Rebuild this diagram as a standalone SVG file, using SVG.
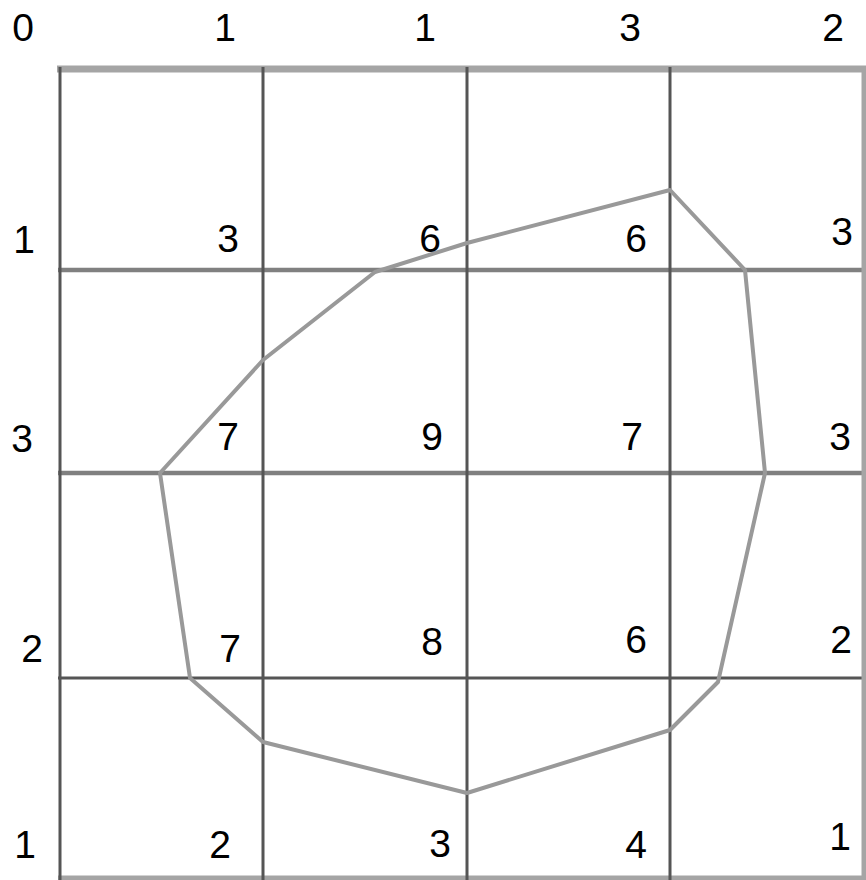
<svg xmlns="http://www.w3.org/2000/svg" width="866" height="880" viewBox="0 0 866 880">
<style>
.g{stroke:#555;stroke-width:3;fill:none}
.gl{stroke:#a5a5a5;stroke-width:7;fill:none}
.gm{stroke:#808080;stroke-width:4.5;fill:none}
.poly{stroke:#999;stroke-width:4;fill:none;stroke-linejoin:round}
text{font-family:"Liberation Sans",Arial,sans-serif;font-size:39px;fill:#000;text-anchor:middle}
</style>
<rect width="866" height="880" fill="#fff"/>
<g id="grid">
<line class="gl" x1="57" y1="69" x2="866" y2="69"/>
<line class="gm" x1="58" y1="270" x2="866" y2="270"/>
<line class="gm" x1="58" y1="473" x2="866" y2="473"/>
<line class="g" x1="58" y1="678" x2="866" y2="678"/>
<line class="gl" x1="58" y1="879" x2="866" y2="879"/>
<line class="g" x1="60" y1="67" x2="60" y2="880"/>
<line class="g" x1="263" y1="67" x2="263" y2="880"/>
<line class="g" x1="467" y1="67" x2="467" y2="880"/>
<line class="g" x1="670" y1="67" x2="670" y2="880"/>
<line class="gl" x1="865" y1="67" x2="865" y2="880"/>
</g>
<g id="contour">
<polygon class="poly" points="670,190 745,270 765,473 718,682 670,730 467,793 263,742 190,678 160,473 263,360 375,272 467,243"/>
</g>
<g id="labels">
<text x="23" y="41">0</text>
<text x="225" y="41">1</text>
<text x="425" y="41">1</text>
<text x="630" y="41">3</text>
<text x="833" y="41">2</text>
<text x="24" y="253">1</text>
<text x="228" y="252">3</text>
<text x="430" y="252">6</text>
<text x="636" y="252">6</text>
<text x="842" y="245">3</text>
<text x="22" y="452">3</text>
<text x="228" y="450">7</text>
<text x="432" y="450">9</text>
<text x="632" y="450">7</text>
<text x="840" y="450">3</text>
<text x="32" y="662">2</text>
<text x="230" y="662">7</text>
<text x="432" y="655">8</text>
<text x="636" y="653">6</text>
<text x="841" y="653">2</text>
<text x="25" y="858">1</text>
<text x="220" y="858">2</text>
<text x="440" y="857">3</text>
<text x="636" y="858">4</text>
<text x="840" y="850">1</text>
</g>
</svg>
